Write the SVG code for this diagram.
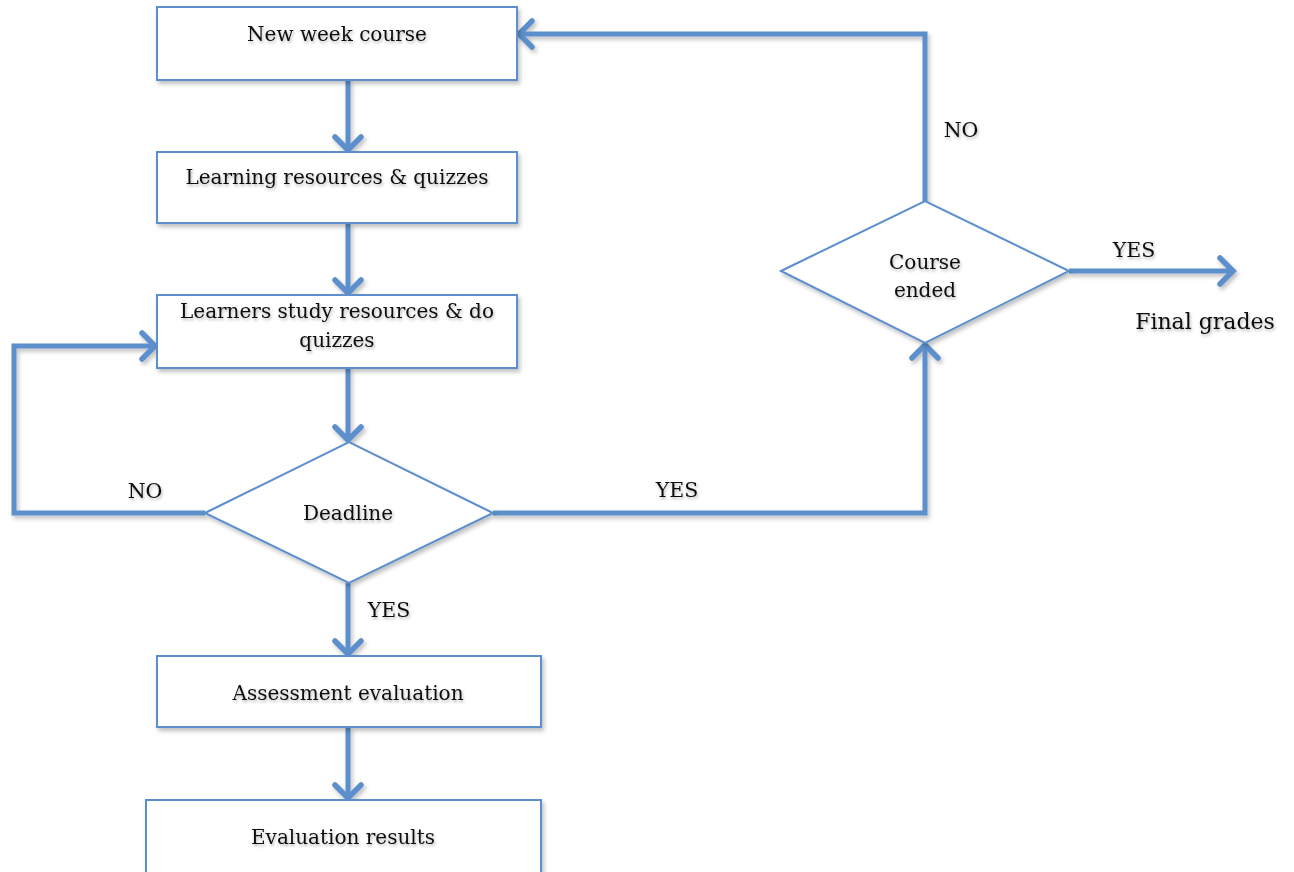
<svg xmlns="http://www.w3.org/2000/svg" width="1294" height="872" viewBox="0 0 1294 872">
<style>
.box{fill:#fff;stroke:#5b8fcb;stroke-width:2}
.con{fill:none;stroke:#5b8fcb;stroke-width:5;stroke-linejoin:miter}
text{font-family:"DejaVu Serif","Liberation Serif",serif;font-size:20px;fill:#111;text-anchor:middle}
.lbl{font-size:20.5px}
</style>
<defs>
<filter id="sh" x="-10%" y="-10%" width="130%" height="140%">
<feDropShadow dx="2" dy="3" stdDeviation="2" flood-color="#000" flood-opacity="0.25"/>
</filter>
<filter id="tsh" x="-10%" y="-30%" width="130%" height="180%">
<feDropShadow dx="1" dy="2" stdDeviation="1.5" flood-color="#000" flood-opacity="0.3"/>
</filter>
<marker id="arr" markerUnits="userSpaceOnUse" markerWidth="34" markerHeight="34" refX="17" refY="17" orient="auto" viewBox="0 0 34 34">
<path d="M4,4 L17,17 L4,30" fill="none" stroke="#5b8fcb" stroke-width="5.5" stroke-linecap="round" stroke-linejoin="miter"/>
</marker>
</defs>
<g id="connectors" filter="url(#sh)">
<path class="con" d="M348,80 V150" marker-end="url(#arr)"/>
<path class="con" d="M348,223 V293" marker-end="url(#arr)"/>
<path class="con" d="M348,368 V440" marker-end="url(#arr)"/>
<path class="con" d="M348,583 V654" marker-end="url(#arr)"/>
<path class="con" d="M348,727 V798" marker-end="url(#arr)"/>
<path class="con" d="M205,513 H14 V346 H155" marker-end="url(#arr)"/>
<path class="con" d="M493,513 H925 V345" marker-end="url(#arr)"/>
<path class="con" d="M925,201 V34 H519" marker-end="url(#arr)"/>
<path class="con" d="M1069,271 H1233" marker-end="url(#arr)"/>
</g>
<g id="n1" filter="url(#sh)"><rect class="box" x="157" y="7" width="360" height="73"/></g>
<g id="n2" filter="url(#sh)"><rect class="box" x="157" y="152" width="360" height="71"/></g>
<g id="n3" filter="url(#sh)"><rect class="box" x="157" y="295" width="360" height="73"/></g>
<g id="n4" filter="url(#sh)"><polygon class="box" points="205,513 349,442 493,513 349,583"/></g>
<g id="n5" filter="url(#sh)"><rect class="box" x="157" y="656" width="384" height="71"/></g>
<g id="n6" filter="url(#sh)"><rect class="box" x="146" y="800" width="395" height="80"/></g>
<g id="n7" filter="url(#sh)"><polygon class="box" points="781,271 925,201 1069,271 925,343"/></g>
<g id="labels" filter="url(#tsh)">
<text x="337" y="41">New week course</text>
<text x="337" y="184">Learning resources &amp; quizzes</text>
<text x="337" y="318">Learners study resources &amp; do</text>
<text x="337" y="347">quizzes</text>
<text x="348" y="520">Deadline</text>
<text x="348" y="700">Assessment evaluation</text>
<text x="343" y="844">Evaluation results</text>
<text x="925" y="269">Course</text>
<text x="925" y="297">ended</text>
<text class="lbl" x="961" y="137">NO</text>
<text class="lbl" x="1134" y="257">YES</text>
<text x="1205" y="329" style="font-size:22px">Final grades</text>
<text class="lbl" x="145" y="498">NO</text>
<text class="lbl" x="677" y="497">YES</text>
<text class="lbl" x="389" y="617">YES</text>
</g>
</svg>
